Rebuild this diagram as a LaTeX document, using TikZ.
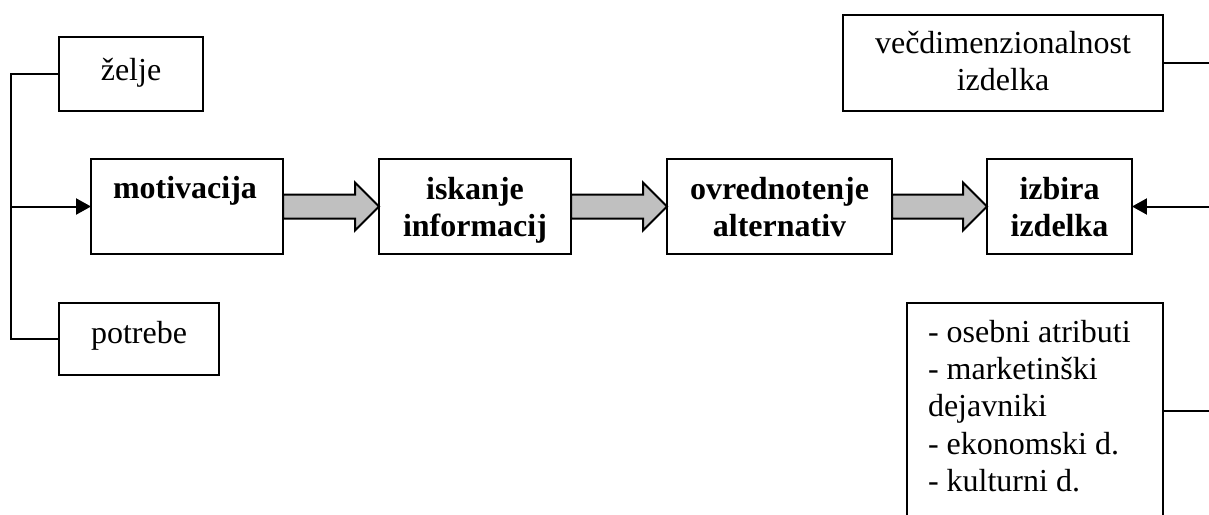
\documentclass[tikz,border=0pt]{standalone}
\usepackage{fontspec}
\setmainfont{Liberation Serif}
\usetikzlibrary{arrows.meta,calc}
\definecolor{arrowgray}{RGB}{192,192,192}
\tikzset{
  x=0.375pt, y=-0.375pt,
  every node/.style={inner sep=0pt, outer sep=0pt},
  box/.style={draw, line width=0.75pt, rectangle, fill=white},
  txt/.style={font=\fontsize{12}{14}\selectfont, anchor=north, align=center},
  btxt/.style={txt, font=\fontsize{12}{14}\selectfont\bfseries},
  conn/.style={line width=0.75pt},
  tip/.style={-{Triangle[length=5.6pt,width=6pt]}},
  blockarrow/.style={draw, line width=0.75pt, fill=arrowgray, line join=miter},
}
\newcommand{\blockarr}[2]{%
  \path[blockarrow] ($(#1.east)+(0,-12)$) -- ($(#2.west)+(-24,-12)$) -- ++(0,-12)
    -- (#2.west) -- ++(-24,24) -- ++(0,-12) -- ($(#1.east)+(0,12)$) -- cycle;}
\begin{document}
\begin{tikzpicture}
\path[use as bounding box, clip] (0,0) rectangle (1209,514);
\fill[white] (0,0) rectangle (1209,514);
% boxes
\node[box, minimum width=144*0.375pt, minimum height=74*0.375pt] (zelje) at (131,74) {};
\node[box, minimum width=160*0.375pt, minimum height=72*0.375pt] (potrebe) at (139,339) {};
\node[box, minimum width=192*0.375pt, minimum height=95*0.375pt] (motiv) at (187,206.5) {};
\node[box, minimum width=192*0.375pt, minimum height=95*0.375pt] (iskanje) at (475,206.5) {};
\node[box, minimum width=225*0.375pt, minimum height=95*0.375pt] (ovred) at (779.5,206.5) {};
\node[box, minimum width=145*0.375pt, minimum height=95*0.375pt] (izbira) at (1059.5,206.5) {};
\node[box, minimum width=320*0.375pt, minimum height=96*0.375pt] (vecdim) at (1003,63) {};
\node[box, minimum width=256*0.375pt, minimum height=216*0.375pt] (fakt) at (1035,411) {};
% texts
\node[txt] (zelje-t) at (131,54) {\strut želje};
\node[txt] (potrebe-t) at (139,317) {\strut potrebe};
\node[btxt] (motiv-t) at (185,172) {\strut motivacija};
\node[btxt] (iskanje-t) at (475,173) {\strut iskanje\\informacij};
\node[btxt] (ovred-t) at (779.5,173) {\strut ovrednotenje\\alternativ};
\node[btxt] (izbira-t) at (1059.5,173) {\strut izbira\\izdelka};
\node[txt] (vecdim-t) at (1003,27) {\strut večdimenzionalnost\\izdelka};
\node[txt, anchor=north west, align=left] (fakt-t) at (928,316)
  {\strut - osebni atributi\\- marketinški\\dejavniki\\- ekonomski d.\\- kulturni d.};
% left connectors
\coordinate (bus) at (11,206.5);
\draw[conn] (zelje.west) -| (bus) |- (potrebe.west);
\draw[conn, tip] (bus) -- (motiv.west);
% right connectors
\coordinate (r1) at (1215,63);
\coordinate (r2) at (1215,206.5);
\coordinate (r3) at (1215,411);
\draw[conn] (vecdim.east) -- (r1);
\draw[conn, tip] (r2) -- (izbira.east);
\draw[conn] (fakt.east) -- (r3);
% block arrows
\blockarr{motiv}{iskanje}
\blockarr{iskanje}{ovred}
\blockarr{ovred}{izbira}
\end{tikzpicture}
\end{document}
